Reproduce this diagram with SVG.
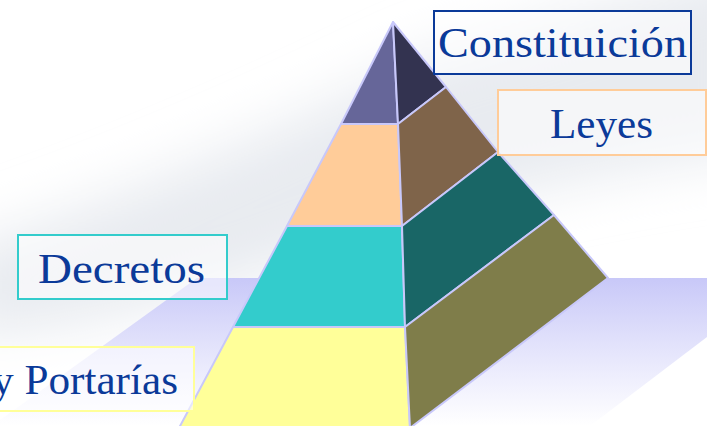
<svg xmlns="http://www.w3.org/2000/svg" width="707" height="426" viewBox="0 0 707 426">
<defs>
<linearGradient id="shadowG" x1="0" y1="0" x2="0" y2="1">
<stop offset="0" stop-color="#C8C8F8"/>
<stop offset="1" stop-color="#FFFFFF" stop-opacity="0.9"/>
</linearGradient>
<filter id="blur" x="-20%" y="-50%" width="140%" height="200%">
<feGaussianBlur stdDeviation="28"/>
</filter>
<style>
.face{stroke:#C8C8FA;stroke-width:2;stroke-linejoin:round}
.lbl{font-family:"Liberation Serif","DejaVu Serif",serif;fill:#0B3A99;font-size:42px}
.box{fill:#FFFFFF;fill-opacity:0.55;stroke-width:2}
</style>
</defs>
<rect width="707" height="426" fill="#FFFFFF"/>
<g id="background" filter="url(#blur)">
<path d="M-40 250 C 120 200 300 120 420 60 L 760 -40 L 760 150 C 600 170 420 210 300 260 C 200 300 80 330 -40 340 Z" fill="#E8EBF0"/>
</g>
<g id="shadow">
<polygon points="197,278 707,278 707,337 590,426 0,426 0,420" fill="url(#shadowG)"/>
</g>
<g id="pyramid">
<polygon class="face" points="393,22 341,124 398,124" fill="#666699"/>
<polygon class="face" points="393,22 398,124 446,87" fill="#333350"/>
<polygon class="face" points="341,124 398,124 402,226 287,226" fill="#FFCC99"/>
<polygon class="face" points="398,124 446,87 498,152 402,226" fill="#7F644A"/>
<polygon class="face" points="287,226 402,226 405,327 233,327" fill="#33CCCC"/>
<polygon class="face" points="402,226 498,152 554,215 405,327" fill="#196666"/>
<polygon class="face" points="233,327 405,327 410,428 179,428" fill="#FFFF99"/>
<polygon class="face" points="405,327 554,215 608,278 410,428" fill="#7F7D4A"/>
</g>
<g id="constitucion">
<rect class="box" x="434" y="11" width="257" height="63" stroke="#0B3A99"/>
<text class="lbl" x="438" y="57" textLength="249" lengthAdjust="spacingAndGlyphs">Constituición</text>
</g>
<g id="leyes">
<rect class="box" x="498" y="90" width="208" height="65" stroke="#FFCC99"/>
<text class="lbl" x="550" y="138" textLength="103" lengthAdjust="spacingAndGlyphs">Leyes</text>
</g>
<g id="decretos">
<rect class="box" x="18" y="235" width="209" height="64" stroke="#33CCCC"/>
<text class="lbl" x="38" y="283" textLength="167" lengthAdjust="spacingAndGlyphs">Decretos</text>
</g>
<g id="portarias">
<rect class="box" x="-10" y="347" width="204" height="64" stroke="#FFFF99"/>
<text class="lbl" x="-8" y="394" textLength="186" lengthAdjust="spacingAndGlyphs">y Portarías</text>
</g>
</svg>
